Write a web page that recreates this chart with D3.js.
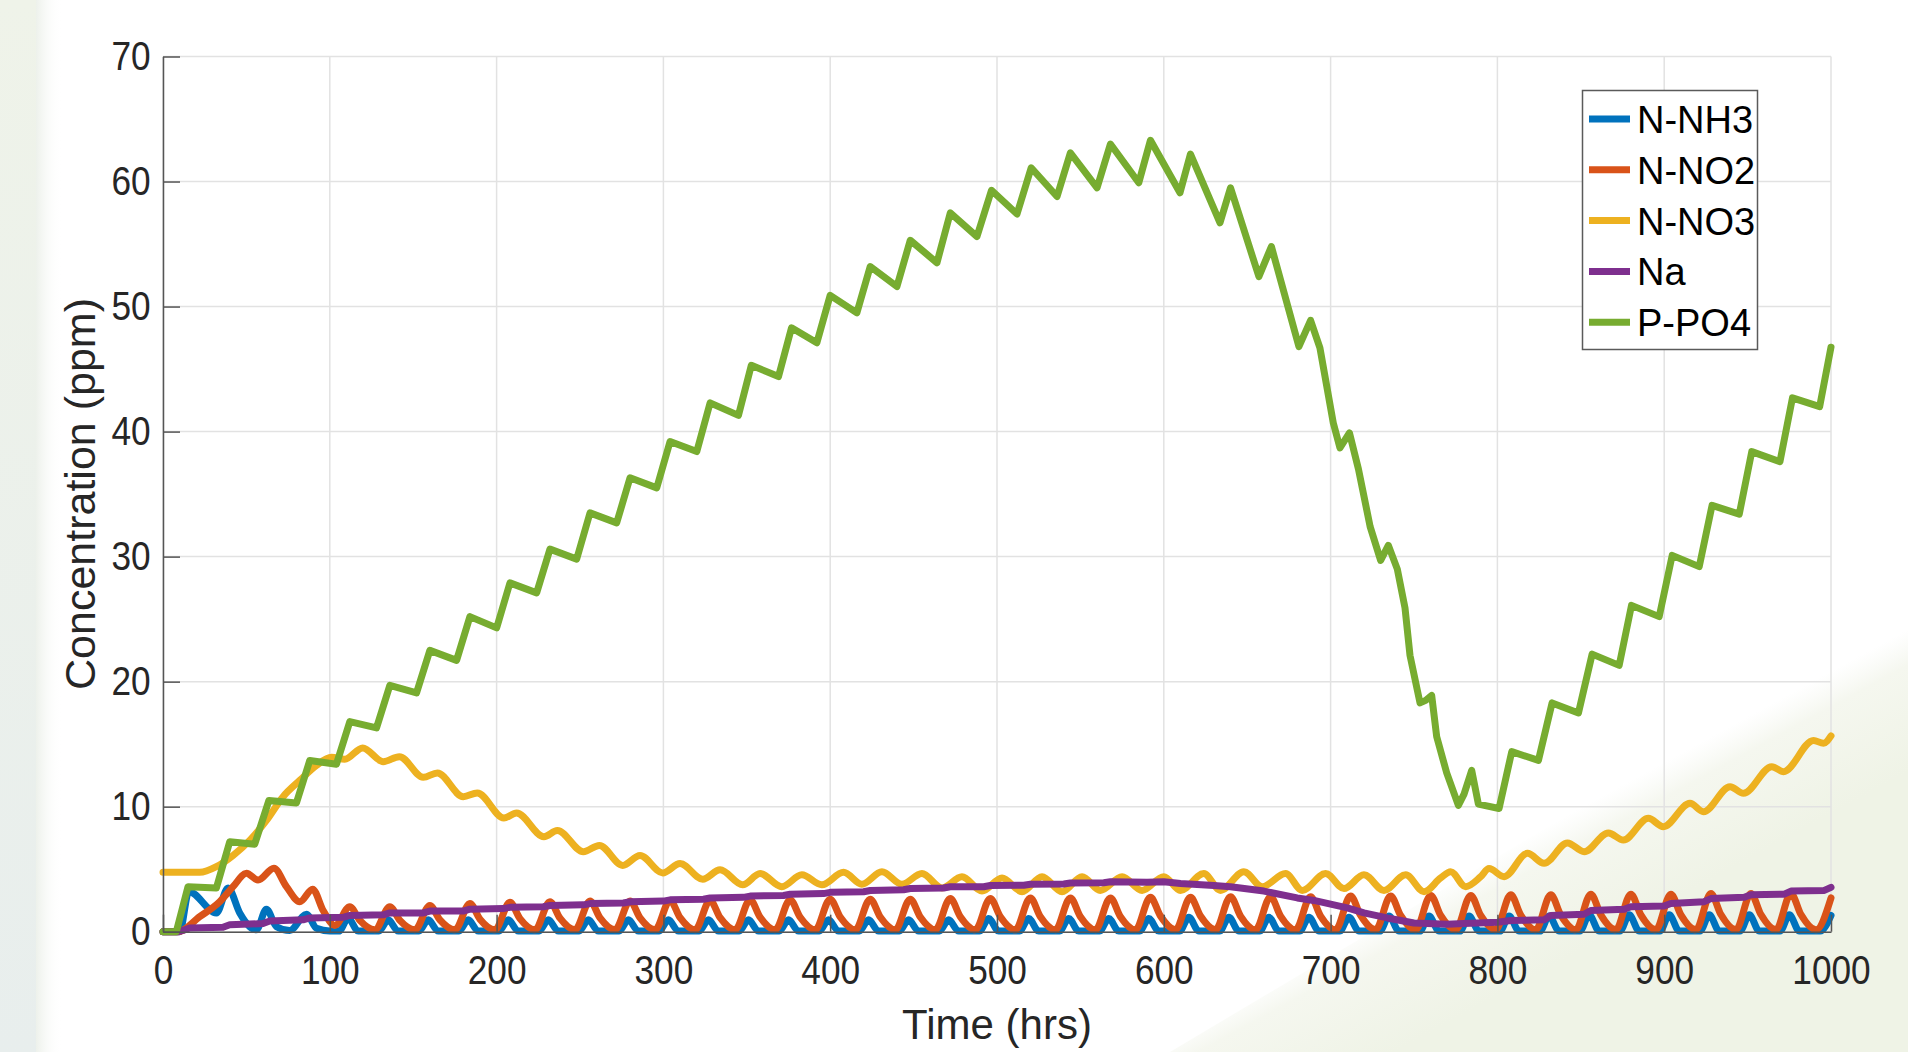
<!DOCTYPE html>
<html lang="en">
<head>
<meta charset="UTF-8">
<title>Concentration vs time</title>
<script src="https://d3js.org/d3.v7.min.js"></script>
<style>
  body { margin: 0; background: #ffffff; }
  svg text { font-family: "Liberation Sans", Arial, Helvetica, sans-serif; fill: #262626; }
</style>
</head>
<body>
<svg width="1908" height="1052"></svg>
<script>
// ---- data: [time (hrs), concentration (ppm)] ----
const nh3 = [[0,0],[10,0],[15.5,3.2],[32,1.5],[39,3.5],[46,1.5],[52,0.4],[56,0.15],[62,1.8],[68,0.4],[76,0.1],[86,1.4],[92,0.27],[100,0.05],
  [105.5,0.05],[111,1.07],[117,0.05],[129.5,0.05],[135,0.95],[141,0.05],[153.5,0.05],[159,0.95],[165,0.05],
  [177.5,0.05],[183,0.95],[189,0.05],[201.5,0.05],[207,0.95],[213,0.05],[225.5,0.05],[231,0.95],[237,0.05],
  [249.5,0.05],[255,0.95],[261,0.05],[273.5,0.05],[279,0.95],[285,0.05],[297.5,0.05],[303,0.95],[309,0.05],
  [321.5,0.05],[327,0.95],[333,0.05],[345.5,0.05],[351,0.95],[357,0.05],[369.5,0.05],[375,0.95],[381,0.05],
  [393.5,0.05],[399,0.95],[405,0.05],[417.5,0.05],[423,0.95],[429,0.05],[441.5,0.05],[447,0.95],[453,0.05],
  [465.5,0.05],[471,0.95],[477,0.05],[489.5,0.05],[495,1.05],[501,0.05],[513.5,0.05],[519,1.05],[525,0.05],
  [537.5,0.05],[543,1.05],[549,0.05],[561.5,0.05],[567,1.05],[573,0.05],[585.5,0.05],[591,1.05],[597,0.05],
  [609.5,0.05],[615,1.15],[621,0.05],[633.5,0.05],[639,1.15],[645,0.05],[657.5,0.05],[663,1.15],[669,0.05],
  [681.5,0.05],[687,1.15],[693,0.05],[705.5,0.05],[711,1.15],[717,0.05],[729.5,0.05],[735,1.25],[741,0.05],
  [753.5,0.05],[759,1.25],[765,0.05],[777.5,0.05],[783,1.25],[789,0.05],[801.5,0.05],[807,1.25],[813,0.05],
  [825.5,0.05],[831,1.25],[837,0.05],[849.5,0.05],[855,1.35],[861,0.05],[873.5,0.05],[879,1.35],[885,0.05],
  [897.5,0.05],[903,1.35],[909,0.05],[921.5,0.05],[927,1.35],[933,0.05],[945.5,0.05],[951,1.35],[957,0.05],
  [969.5,0.05],[975,1.35],[981,0.05],[993.5,0.05],[1000,1.3]];

const no2 = [[0,0],[9,0],[22,1.2],[34,2.4],[42,3.6],[50,4.67],[57,4.13],[66.5,5.07],[74,3.6],[82,2.4],[89.7,3.4],[96,1.7],[103,0.5],
  [112,2.0],[118,0.9],[127,0.15],[136,2.0],[142,0.9],[151,0.15],[160,2.1],[166,0.95],[175,0.15],
  [184,2.25],[190,1.0],[199,0.15],[208,2.35],[214,1.05],[223,0.15],[232,2.4],[238,1.08],[247,0.15],
  [256,2.45],[262,1.1],[271,0.15],[280,2.45],[286,1.1],[295,0.15],[304,2.5],[310,1.12],[319,0.15],
  [328,2.5],[334,1.12],[343,0.15],[352,2.55],[358,1.15],[367,0.15],[376,2.55],[382,1.15],[391,0.15],
  [400,2.6],[406,1.17],[415,0.15],[424,2.6],[430,1.17],[439,0.15],[448,2.6],[454,1.17],[463,0.15],
  [472,2.65],[478,1.2],[487,0.15],[496,2.65],[502,1.2],[511,0.15],[520,2.7],[526,1.2],[535,0.15],
  [544,2.7],[550,1.2],[559,0.15],[568,2.7],[574,1.2],[583,0.15],[592,2.75],[598,1.25],[607,0.15],
  [616,2.75],[622,1.25],[631,0.15],[640,2.8],[646,1.25],[655,0.15],[664,2.8],[670,1.25],[679,0.15],
  [688,2.8],[694,1.25],[703,0.15],[712,2.85],[718,1.3],[727,0.15],[736,2.85],[742,1.3],[751,0.15],
  [760,2.9],[766,1.3],[775,0.15],[784,2.9],[790,1.3],[799,0.15],[808,2.95],[814,1.33],[823,0.15],
  [832,2.95],[838,1.33],[847,0.15],[856,3.0],[862,1.35],[871,0.15],[880,3.0],[886,1.35],[895,0.15],
  [904,3.0],[910,1.35],[919,0.15],[928,3.05],[934,1.37],[943,0.15],[952,3.05],[958,1.37],[967,0.15],
  [976,3.05],[982,1.37],[991,0.15],[1000,2.7]];

const no3 = [[0,4.75],[22,4.75],[32,5.2],[42,6.1],[52,7.3],[62,8.9],[72,10.8],[82,12.1],[92,13.3],[101,13.95],[109,13.8],
  [119.7,14.7],[132,13.6],[141.7,14.0],[156,12.35],[164.5,12.7],[180,10.8],[188.4,11.1],[204.4,9.1],[212,9.5],
  [228.4,7.6],[236.4,8.1],[252,6.4],[261.6,6.9],[275.6,5.3],[286,6.1],[299.6,4.7],[310,5.45],[323.6,4.2],[334,4.95],
  [347.5,3.75],[358,4.65],[371,3.6],[383,4.55],[395,3.75],[408,4.75],[419,3.8],[431,4.8],[443,3.8],[455,4.65],
  [467,3.5],[479,4.4],[491,3.25],[503,4.3],[515,3.2],[527,4.4],[539,3.2],[551,4.4],[562,3.3],[575,4.4],
  [587,3.3],[600,4.4],[610,3.3],[624,4.65],[634,3.3],[648,4.8],[659,3.6],[673,4.65],[683,3.3],[697,4.65],
  [708,3.45],[720,4.55],[732,3.3],[745,4.55],[756,3.2],[766,4.3],[772,4.8],[781,3.6],[790,4.4],[795,5.05],
  [804,4.4],[818,6.27],[828,5.47],[842,7.1],[852,6.4],[866.5,7.9],[875.5,7.33],[890.5,9.07],[899.5,8.4],
  [915.5,10.27],[923.5,9.6],[939.5,11.6],[947.5,11.07],[964.5,13.2],[971.5,12.8],[989.5,15.3],[995.5,15.07],[1000,15.66]];

const na = [[0,0],[9,0],[12,0.1],[16,0.3],[36,0.35],[40,0.55],[60,0.65],[64,0.85],[84,0.95],[88,1.1],[108,1.15],[112,1.3],
  [132,1.35],[136,1.5],[156,1.5],[160,1.65],[180,1.65],[184,1.8],[204,1.85],[208,1.95],[228,2.0],[232,2.1],
  [252,2.15],[256,2.25],[276,2.3],[280,2.4],[300,2.45],[304,2.55],[324,2.6],[328,2.7],[348,2.75],[352,2.85],
  [372,2.9],[376,3.0],[396,3.05],[400,3.15],[420,3.2],[424,3.3],[444,3.35],[448,3.45],[468,3.5],[472,3.6],
  [492,3.6],[496,3.7],[516,3.72],[520,3.8],[540,3.82],[544,3.9],[564,3.92],[568,4.0],[590,3.95],[600,4.0],
  [610,3.85],[630,3.7],[640,3.6],[660,3.25],[680,2.7],[690,2.5],[710,1.9],[720,1.5],[734,1.1],[750,0.7],
  [770,0.6],[780,0.65],[800,0.75],[808,0.9],[828,0.95],[832,1.3],[852,1.4],[856,1.7],[876,1.8],[880,2.0],
  [900,2.05],[904,2.25],[924,2.4],[928,2.65],[948,2.75],[952,2.95],[972,3.0],[976,3.25],[996,3.3],[1000,3.55]];

const po4 = [[0,0],[8,0],[15,3.6],[32,3.5],[40,7.2],[55,7.0],[63.5,10.5],[80,10.3],[88,13.7],[104,13.4],[112,16.8],
  [128,16.3],[136,19.7],[152,19.1],[160,22.5],[176,21.7],[184,25.2],[200,24.3],[208,27.9],[224,27.1],[232,30.6],
  [248,29.8],[256,33.5],[272,32.7],[280,36.3],[296,35.5],[304,39.2],[320,38.4],[328,42.3],[345,41.3],[352.7,45.3],
  [369,44.4],[376.8,48.3],[392,47.1],[400,50.9],[416,49.5],[424,53.2],[440,51.6],[448,55.3],[464,53.5],[472,57.5],
  [488,55.6],[496.7,59.3],[512,57.4],[520.5,61.1],[536,58.8],[544,62.3],[560,59.5],[568,63.0],[585,59.9],[592,63.3],
  [609.7,59.1],[616,62.2],[633.7,56.7],[640,59.5],[657,52.4],[664.5,54.8],[681,46.8],[688,48.9],[693.6,46.7],
  [701.6,40.7],[705.6,38.7],[711.3,39.9],[716.7,37.0],[723.7,32.4],[730,29.7],[734.6,30.9],[740,29.0],[744.6,25.9],
  [747.6,22.1],[753.6,18.3],[757,18.5],[760.6,18.9],[763.6,15.6],[769.6,12.7],[776.6,10.1],[780,11.0],[784.6,12.9],
  [788.6,10.2],[801,9.85],[808.6,14.4],[824.6,13.7],[832.8,18.3],[848.6,17.5],[856.8,22.2],[873,21.3],[880.4,26.1],
  [897,25.2],[904.8,30.1],[921,29.2],[928.7,34.1],[945,33.4],[952.5,38.4],[969.4,37.6],[976.9,42.7],[993.2,42.0],[1000,46.75]];

const seriesNames = ["N-NH3", "N-NO2", "N-NO3", "Na", "P-PO4"];
const seriesColors = ["#0072BD", "#D95319", "#EDB120", "#7E2F8E", "#77AC30"];
const xTicks = [0, 100, 200, 300, 400, 500, 600, 700, 800, 900, 1000];
const yTicks = [0, 10, 20, 30, 40, 50, 60, 70];

const series = [
  { name: seriesNames[0], data: nh3, color: seriesColors[0], curve: d3.curveMonotoneX },
  { name: seriesNames[1], data: no2, color: seriesColors[1], curve: d3.curveMonotoneX },
  { name: seriesNames[2], data: no3, color: seriesColors[2], curve: d3.curveMonotoneX },
  { name: seriesNames[3], data: na,  color: seriesColors[3], curve: d3.curveLinear },
  { name: seriesNames[4], data: po4, color: seriesColors[4], curve: d3.curveLinear }
];

const svg = d3.select("svg");
const x = d3.scaleLinear().domain([0, 1000]).range([163, 1831]);
const y = d3.scaleLinear().domain([0, 70]).range([931.7, 56.5]);

// slide background: pale strip on the left, pale wedge bottom right
const defs = svg.append("defs");
const lg = defs.append("linearGradient").attr("id", "leftStrip").attr("x1", 0).attr("y1", 0).attr("x2", 0).attr("y2", 1);
lg.append("stop").attr("offset", 0).attr("stop-color", "#eff3e9");
lg.append("stop").attr("offset", 1).attr("stop-color", "#e8eeed");
const lf = defs.append("linearGradient").attr("id", "leftFade").attr("x1", 0).attr("y1", 0).attr("x2", 1).attr("y2", 0);
lf.append("stop").attr("offset", 0).attr("stop-color", "#edf1eb").attr("stop-opacity", 1);
lf.append("stop").attr("offset", 1).attr("stop-color", "#ffffff").attr("stop-opacity", 0);
const wg = defs.append("linearGradient").attr("id", "wedge").attr("gradientUnits", "userSpaceOnUse")
  .attr("x1", 1540).attr("y1", 830).attr("x2", 1600).attr("y2", 940);
wg.append("stop").attr("offset", 0).attr("stop-color", "#f6f8f2").attr("stop-opacity", 0);
wg.append("stop").attr("offset", 0.25).attr("stop-color", "#f5f7ef");
wg.append("stop").attr("offset", 1).attr("stop-color", "#eff3e6");

svg.append("rect").attr("x", 0).attr("y", 0).attr("width", 1908).attr("height", 1052).attr("fill", "#ffffff");
svg.append("rect").attr("x", 0).attr("y", 0).attr("width", 36).attr("height", 1052).attr("fill", "url(#leftStrip)");
svg.append("rect").attr("x", 36).attr("y", 0).attr("width", 26).attr("height", 1052).attr("fill", "url(#leftFade)");
svg.append("polygon").attr("points", "1170,1052 1908,612 1908,1052").attr("fill", "url(#wedge)");

// grid
const grid = svg.append("g").attr("stroke", "#e2e2e2").attr("stroke-width", 1.5);
grid.selectAll(".gx").data(xTicks).join("line")
  .attr("x1", d => x(d)).attr("x2", d => x(d)).attr("y1", y(0)).attr("y2", y(70));
grid.selectAll(".gy").data(yTicks).join("line")
  .attr("y1", d => y(d)).attr("y2", d => y(d)).attr("x1", x(0)).attr("x2", x(1000));

// lines, in plotting order
const line = d3.line().x(d => x(d[0])).y(d => y(d[1]));
svg.append("g").selectAll("path").data(series).join("path")
  .attr("d", s => line.curve(s.curve)(s.data))
  .attr("fill", "none")
  .attr("stroke", s => s.color)
  .attr("stroke-width", 7)
  .attr("stroke-linejoin", "round")
  .attr("stroke-linecap", "round");

// axes
const gx = svg.append("g").attr("transform", `translate(0,${y(0)})`)
  .call(d3.axisBottom(x).tickValues(xTicks).tickFormat(d3.format("d"))
    .tickSize(-17).tickSizeOuter(0).tickPadding(24));
const gy = svg.append("g").attr("transform", `translate(${x(0)},0)`)
  .call(d3.axisLeft(y).tickValues(yTicks).tickFormat(d3.format("d"))
    .tickSize(-17).tickSizeOuter(0).tickPadding(14));
[gx, gy].forEach(g => {
  g.attr("color", "#555555");
  g.select(".domain").attr("stroke-width", 1.5);
  g.selectAll(".tick line").attr("stroke-width", 1.5);
  g.selectAll(".tick text")
    .attr("font-family", "'Liberation Sans', Arial, sans-serif")
    .attr("font-size", 40)
    .attr("transform", "scale(0.88,1)")
    .style("fill", "#262626");
});

// axis labels
svg.append("text").attr("x", 997).attr("y", 1039).attr("text-anchor", "middle")
  .attr("font-size", 42).text("Time (hrs)");
svg.append("text").attr("transform", "translate(95,494) rotate(-90)").attr("text-anchor", "middle")
  .attr("font-size", 43).text("Concentration (ppm)");

// legend
const leg = svg.append("g");
leg.append("rect").attr("x", 1582.5).attr("y", 90.5).attr("width", 175).attr("height", 259)
  .attr("fill", "#ffffff").attr("stroke", "#5a5a5a").attr("stroke-width", 1.5);
const rows = leg.selectAll(".row").data(series).join("g")
  .attr("transform", (d, i) => `translate(0,${119 + i * 50.8})`);
rows.append("line").attr("x1", 1589).attr("x2", 1630).attr("y1", 0).attr("y2", 0)
  .attr("stroke", d => d.color).attr("stroke-width", 7);
rows.append("text").attr("x", 1637).attr("y", 14).attr("font-size", 38).style("fill", "#000000")
  .text(d => d.name);
</script>
</body>
</html>
